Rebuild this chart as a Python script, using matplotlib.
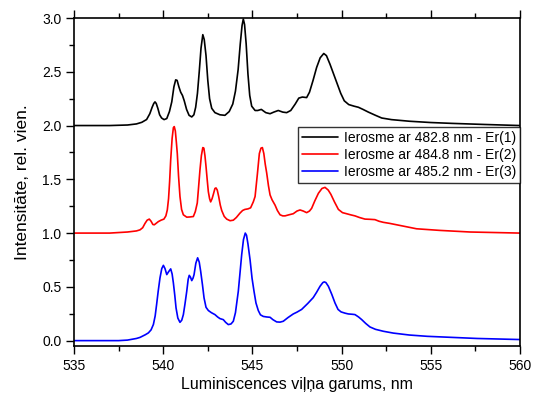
import matplotlib
matplotlib.use("Agg")
import matplotlib.pyplot as plt
from matplotlib.ticker import MultipleLocator, FormatStrFormatter

plt.rcParams['font.family'] = ['Liberation Sans', 'DejaVu Sans']

# Emission spectrum, excitation at 482.8 nm (shifted by +2)
wl_er1 = [535.0, 537.0, 538.0, 538.5, 538.8, 539.07, 539.25, 539.38, 539.47, 539.54,
          539.61, 539.7, 539.8, 539.91, 540.05, 540.2, 540.35, 540.48, 540.6, 540.7,
          540.78, 540.88, 540.98, 541.08, 541.18, 541.31, 541.45, 541.6, 541.72, 541.82,
          541.92, 542.02, 542.12, 542.22, 542.3, 542.4, 542.5, 542.6, 542.72, 542.9,
          543.18, 543.46, 543.7, 543.9, 544.05, 544.2, 544.32, 544.42, 544.49, 544.56,
          544.65, 544.75, 544.85, 544.96, 545.15, 545.3, 545.5, 545.75, 545.99, 546.2,
          546.45, 546.7, 546.92, 547.15, 547.4, 547.6, 547.8, 548.04, 548.2, 548.4,
          548.6, 548.8, 549.0, 549.15, 549.35, 549.55, 549.75, 549.95, 550.15, 550.4,
          550.7, 550.94, 551.2, 551.5, 551.9, 552.25, 552.8, 553.8, 555.0, 556.2,
          558.0, 560.0]
int_er1 = [2.0, 2.0, 2.005, 2.015, 2.03, 2.056, 2.11, 2.17, 2.205, 2.22,
           2.205, 2.16, 2.10, 2.07, 2.055, 2.065, 2.13, 2.22, 2.36, 2.425,
           2.42, 2.36, 2.31, 2.28, 2.23, 2.15, 2.095, 2.08, 2.10, 2.17,
           2.30, 2.50, 2.72, 2.845, 2.80, 2.65, 2.42, 2.25, 2.16, 2.12,
           2.10, 2.095, 2.13, 2.20, 2.32, 2.52, 2.76, 2.93, 2.99, 2.94,
           2.76, 2.48, 2.28, 2.18, 2.14, 2.14, 2.15, 2.12, 2.11, 2.125,
           2.14, 2.125, 2.12, 2.14, 2.20, 2.255, 2.265, 2.26, 2.31, 2.42,
           2.54, 2.63, 2.67, 2.65, 2.57, 2.48, 2.39, 2.30, 2.23, 2.195,
           2.18, 2.17, 2.15, 2.125, 2.095, 2.07, 2.055, 2.04, 2.028, 2.02,
           2.01, 2.0]

# Excitation at 484.8 nm (shifted by +1)
wl_er2 = [535.0, 537.0, 538.0, 538.5, 538.7, 538.85, 538.98, 539.1, 539.22, 539.32,
          539.42, 539.5, 539.6, 539.73, 539.88, 540.04, 540.15, 540.23, 540.3, 540.36,
          540.42, 540.5, 540.57, 540.62, 540.68, 540.74, 540.79, 540.86, 540.94, 541.03,
          541.13, 541.32, 541.5, 541.69, 541.8, 541.91, 541.98, 542.06, 542.14, 542.22,
          542.28, 542.34, 542.4, 542.47, 542.53, 542.6, 542.66, 542.74, 542.81, 542.9,
          542.96, 543.03, 543.11, 543.2, 543.28, 543.42, 543.56, 543.75, 543.93, 544.1,
          544.3, 544.45, 544.58, 544.75, 544.9, 545.05, 545.15, 545.28, 545.39, 545.48,
          545.56, 545.64, 545.72, 545.8, 545.9, 545.99, 546.1, 546.27, 546.4, 546.55,
          546.7, 546.83, 547.05, 547.29, 547.5, 547.67, 547.85, 548.04, 548.2, 548.32,
          548.5, 548.7, 548.9, 549.07, 549.25, 549.4, 549.6, 549.82, 550.05, 550.28,
          550.5, 550.75, 551.0, 551.31, 551.6, 551.87, 552.1, 552.34, 552.7, 553.0,
          553.6, 554.2, 555.5, 557.2, 560.0]
int_er2 = [1.0, 1.0, 1.01, 1.02, 1.03, 1.05, 1.09, 1.12, 1.13, 1.11,
           1.08, 1.077, 1.09, 1.107, 1.12, 1.13, 1.16, 1.215, 1.32, 1.48,
           1.68, 1.88, 1.98, 1.99, 1.95, 1.84, 1.74, 1.53, 1.34, 1.22,
           1.17, 1.148, 1.15, 1.154, 1.20, 1.28, 1.42, 1.586, 1.72, 1.795,
           1.79, 1.72, 1.62, 1.49, 1.385, 1.32, 1.29, 1.32, 1.36, 1.415,
           1.42, 1.40, 1.34, 1.26, 1.21, 1.155, 1.13, 1.115, 1.12, 1.145,
           1.185, 1.21, 1.22, 1.225, 1.235, 1.29, 1.34, 1.55, 1.74, 1.79,
           1.795, 1.74, 1.64, 1.56, 1.44, 1.355, 1.31, 1.26, 1.21, 1.17,
           1.16, 1.16, 1.17, 1.18, 1.205, 1.215, 1.205, 1.19, 1.205, 1.23,
           1.30, 1.37, 1.415, 1.425, 1.40, 1.36, 1.29, 1.22, 1.19, 1.18,
           1.17, 1.16, 1.145, 1.13, 1.128, 1.125, 1.11, 1.10, 1.09, 1.08,
           1.06, 1.04, 1.025, 1.01, 1.0]

# Excitation at 485.2 nm (no shift)
wl_er3 = [535.0, 537.5, 538.0, 538.5, 538.7, 539.0, 539.17, 539.32, 539.45, 539.55,
          539.63, 539.72, 539.82, 539.92, 540.01, 540.1, 540.2, 540.3, 540.42, 540.5,
          540.57, 540.65, 540.72, 540.82, 540.94, 541.04, 541.13, 541.22, 541.32, 541.4,
          541.46, 541.53, 541.6, 541.67, 541.73, 541.83, 541.93, 542.02, 542.1, 542.2,
          542.29, 542.4, 542.53, 542.7, 542.9, 543.05, 543.18, 543.37, 543.5, 543.65,
          543.8, 543.93, 544.05, 544.13, 544.21, 544.3, 544.4, 544.5, 544.6, 544.67,
          544.75, 544.87, 544.98, 545.09, 545.2, 545.33, 545.45, 545.61, 545.8, 545.99,
          546.15, 546.36, 546.55, 546.73, 547.0, 547.29, 547.5, 547.76, 548.1, 548.41,
          548.6, 548.79, 548.95, 549.03, 549.12, 549.26, 549.45, 549.63, 549.8, 549.97,
          550.2, 550.38, 550.6, 550.75, 550.95, 551.13, 551.35, 551.59, 551.9, 552.34,
          552.9, 553.8, 554.8, 556.2, 557.6, 560.0]
int_er3 = [0.0, 0.0, 0.005, 0.02, 0.03, 0.055, 0.072, 0.10, 0.15, 0.23,
           0.335, 0.46, 0.583, 0.67, 0.70, 0.67, 0.614, 0.64, 0.667, 0.62,
           0.537, 0.42, 0.304, 0.21, 0.17, 0.19, 0.242, 0.34, 0.459, 0.57,
           0.607, 0.59, 0.558, 0.58, 0.614, 0.72, 0.77, 0.73, 0.645, 0.52,
           0.397, 0.31, 0.28, 0.26, 0.242, 0.22, 0.205, 0.195, 0.17, 0.149,
           0.155, 0.18, 0.26, 0.36, 0.459, 0.62, 0.80, 0.94, 1.0, 0.98,
           0.90, 0.75, 0.58, 0.459, 0.35, 0.28, 0.24, 0.225, 0.22, 0.217,
           0.195, 0.174, 0.172, 0.18, 0.215, 0.248, 0.265, 0.29, 0.345, 0.40,
           0.45, 0.505, 0.54, 0.546, 0.54, 0.505, 0.43, 0.35, 0.29, 0.267,
           0.255, 0.248, 0.245, 0.242, 0.22, 0.195, 0.16, 0.127, 0.105, 0.087,
           0.07, 0.052, 0.04, 0.03, 0.02, 0.01]

labels = ["Ierosme ar 482.8 nm - Er(1)",
          "Ierosme ar 484.8 nm - Er(2)",
          "Ierosme ar 485.2 nm - Er(3)"]
colors = ["#000000", "#ff0000", "#0000ff"]

fig = plt.figure(figsize=(5.33, 3.95), dpi=100)
ax = fig.add_axes([74 / 533, 49 / 395, 446 / 533, 328 / 395])

for wl, val, lab, col in zip([wl_er1, wl_er2, wl_er3],
                             [int_er1, int_er2, int_er3], labels, colors):
    ax.plot(wl, val, color=col, lw=1.2, label=lab,
            solid_joinstyle='round', solid_capstyle='round')

ax.set_xlim(535, 560)
ax.set_ylim(-0.05, 3.0)
ax.xaxis.set_major_locator(MultipleLocator(5))
ax.xaxis.set_minor_locator(MultipleLocator(2.5))
ax.yaxis.set_major_locator(MultipleLocator(0.5))
ax.yaxis.set_minor_locator(MultipleLocator(0.25))
ax.yaxis.set_major_formatter(FormatStrFormatter('%.1f'))

ax.tick_params(which='both', direction='out', top=True, right=False,
               labelsize=10, width=1.0)
ax.tick_params(which='major', length=6, pad=3)
ax.tick_params(which='minor', length=3.5)
for sp in ax.spines.values():
    sp.set_linewidth(1.2)

ax.set_xlabel("Luminiscences viļņa garums, nm", fontsize=11.5, labelpad=3)
ax.set_ylabel("Intensitāte, rel. vien.", fontsize=12.5, labelpad=9)

leg = ax.legend(loc='upper right', bbox_to_anchor=(1.0, 0.668), fontsize=10,
                frameon=True, fancybox=False, handlelength=2.6,
                borderpad=0.3, labelspacing=0.2, handletextpad=0.4,
                borderaxespad=0.0)
leg.get_frame().set_edgecolor('black')
leg.get_frame().set_linewidth(1.0)

fig.savefig("out.png", dpi=100)
